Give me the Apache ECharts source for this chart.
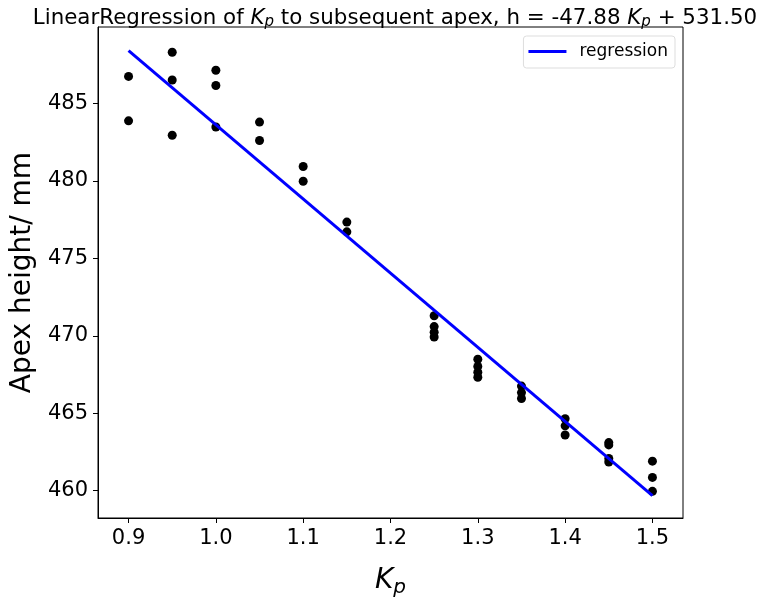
<!DOCTYPE html>
<html>

<head>
	<meta charset="UTF-8">
	<title></title>
	<style>
		html, body { margin: 0; padding: 0; background: #fff; }
		#chart { width: 758px; height: 603px; }
	</style>
	<script src="https://cdn.jsdelivr.net/npm/echarts@6/dist/echarts.min.js"></script>
</head>

<body>
	<div id="chart"></div>
	<script>
		// measured points
		var kp = [0.9, 0.9, 0.95, 0.95, 0.95, 1.0, 1.0, 1.0, 1.05, 1.05, 1.1, 1.1, 1.15, 1.15,
			1.25, 1.25, 1.25, 1.25, 1.3, 1.3, 1.3, 1.3, 1.35, 1.35, 1.35, 1.4, 1.4, 1.4,
			1.45, 1.45, 1.45, 1.45, 1.5, 1.5, 1.5];
		var apex = [486.75, 483.88, 488.31, 486.52, 482.95, 487.15, 486.16, 483.48, 483.8, 482.61,
			480.93, 479.98, 477.34, 476.71,
			471.29, 470.59, 470.23, 469.92, 468.48, 468.02, 467.64, 467.32, 466.75, 466.33, 465.95,
			464.64, 464.18, 463.59, 463.1, 462.95, 462.07, 461.85, 461.9, 460.85, 459.95];
		// regression line end points
		var lineKp = [0.9, 1.5];
		var lineApex = [488.41, 459.68];
		var xTicks = [0.9, 1.0, 1.1, 1.2, 1.3, 1.4, 1.5];
		var yTicks = [460, 465, 470, 475, 480, 485];

		var font = 'DejaVu Sans';
		var mychart = echarts.init(document.getElementById('chart'));
		mychart.setOption({
			animation: false,
			title: {
				text: 'LinearRegression of {i|K}{s|p} to subsequent apex, h = -47.88 {i|K}{s|p} + 531.50',
				left: 390,
				textAlign: 'center',
				top: 1,
				textStyle: {
					fontFamily: font,
					fontWeight: 'normal',
					fontSize: 21.4,
					color: '#000',
					rich: {
						i: { fontFamily: font, fontStyle: 'italic', fontSize: 21.4, color: '#000' },
						s: { fontFamily: font, fontStyle: 'italic', fontSize: 15, color: '#000', padding: [9, 0, 0, 0] }
					}
				}
			},
			legend: {
				right: 83,
				top: 36,
				itemWidth: 38,
				itemHeight: 3,
				itemGap: 10,
				padding: [7, 7, 8, 5],
				borderColor: '#ddd',
				borderWidth: 1,
				borderRadius: 3,
				backgroundColor: '#fff',
				icon: 'rect',
				textStyle: { fontFamily: font, fontSize: 17, color: '#000', padding: [0, 0, 0, 8] },
				data: ['regression']
			},
			grid: {
				left: 98,
				right: 75,
				top: 27,
				bottom: 75,
				show: true,
				borderColor: '#000',
				borderWidth: 1,
				containLabel: false
			},
			xAxis: {
				type: 'value',
				min: 0.865,
				max: 1.535,
				name: '{i|K}{s|p}',
				nameLocation: 'middle',
				nameGap: 46,
				nameTextStyle: {
					rich: {
						i: { fontFamily: font, fontStyle: 'italic', fontSize: 28, color: '#000' },
						s: { fontFamily: font, fontStyle: 'italic', fontSize: 20, color: '#000', padding: [14, 0, 0, 0] }
					}
				},
				axisLine: { onZero: false, lineStyle: { color: '#000' } },
				axisTick: { customValues: xTicks, length: 5, lineStyle: { color: '#000' } },
				axisLabel: {
					customValues: xTicks,
					formatter: function (v) { return v.toFixed(1); },
					fontFamily: font, fontSize: 21, color: '#000', margin: 10
				},
				splitLine: { show: false }
			},
			yAxis: {
				type: 'value',
				min: 458.23,
				max: 489.94,
				name: 'Apex height/ mm',
				nameLocation: 'middle',
				nameGap: 60,
				nameTextStyle: { fontFamily: font, fontSize: 28, color: '#000' },
				axisLine: { onZero: false, lineStyle: { color: '#000' } },
				axisTick: { customValues: yTicks, length: 5, lineStyle: { color: '#000' } },
				axisLabel: {
					customValues: yTicks,
					fontFamily: font, fontSize: 21, color: '#000', margin: 10
				},
				splitLine: { show: false }
			},
			series: [
				{
					type: 'scatter',
					name: 'points',
					symbolSize: 9,
					itemStyle: { color: '#000', opacity: 1 },
					data: kp.map(function (k, i) { return [k, apex[i]]; }),
					z: 2
				},
				{
					type: 'line',
					name: 'regression',
					showSymbol: false,
					symbol: 'none',
					lineStyle: { color: '#0000ff', width: 3 },
					itemStyle: { color: '#0000ff' },
					data: lineKp.map(function (k, i) { return [k, lineApex[i]]; }),
					z: 3
				}
			]
		});
	</script>
</body>

</html>
